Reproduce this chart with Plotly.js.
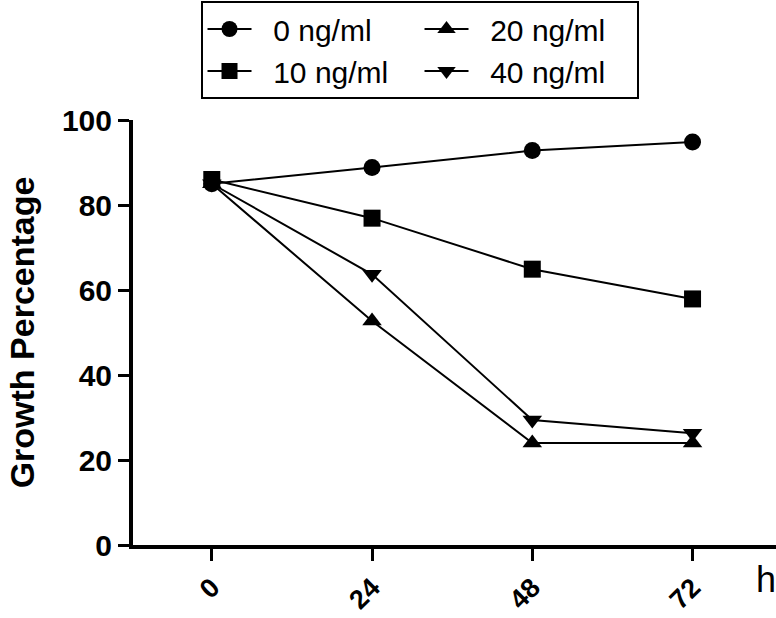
<!DOCTYPE html>
<html>
<head>
<meta charset="utf-8">
<script src="https://cdn.plot.ly/plotly-3.0.1.min.js"></script>
<style>html,body{margin:0;padding:0;background:#fff}#chart{width:776px;height:618px}</style>
</head>
<body>
<div id="chart"></div>
<script>
const hours = [0, 24, 48, 72];
const conc0 = [85, 88.8, 92.8, 94.8];
const conc10 = [86, 76.9, 64.9, 57.9];
const conc20 = [85, 52.7, 24, 24];
const conc40 = [85, 63.7, 29.4, 26.3];
const seriesNames = ['0 ng/ml', '20 ng/ml', '10 ng/ml', '40 ng/ml'];
const yTicks = [0, 20, 40, 60, 80, 100];
const xTickLabels = ['0', '24', '48', '72'];

function mk(name, y, symbol) {
  return {
    x: hours, y: y, name: '\u00a0\u00a0' + name, type: 'scatter', mode: 'lines+markers',
    line: {color: '#000', width: 2},
    marker: {symbol: symbol, size: 17, color: '#000'},
    cliponaxis: false
  };
}
const traces = [
  mk(seriesNames[0], conc0, 'circle'),
  mk(seriesNames[1], conc20, 'triangle-up'),
  mk(seriesNames[2], conc10, 'square'),
  mk(seriesNames[3], conc40, 'triangle-down')
];

const layout = {
  width: 776, height: 618,
  margin: {l: 133, r: 0, t: 119.5, b: 72.5},
  paper_bgcolor: '#fff', plot_bgcolor: '#fff',
  font: {family: 'Liberation Sans, Arial, sans-serif', color: '#000'},
  showlegend: true,
  legend: {
    orientation: 'h', x: 0.105, xanchor: 'left', y: 1.28, yanchor: 'top',
    bordercolor: '#000', borderwidth: 2, bgcolor: '#fff',
    font: {size: 30, color: '#000'},
    itemwidth: 44,
    entrywidth: 158, entrywidthmode: 'pixels', traceorder: 'normal'
  },
  xaxis: {
    range: [-11.8, 84.5], tickvals: hours, ticktext: xTickLabels,
    showline: true, linecolor: '#000', linewidth: 4, mirror: false,
    ticks: 'outside', ticklen: 12, tickwidth: 3, tickcolor: '#000',
    tickangle: -45, tickfont: {size: 27, family: 'Liberation Sans, Arial, sans-serif', weight: 'bold'},
    showgrid: false, zeroline: false, fixedrange: true
  },
  yaxis: {
    range: [0, 100], tickvals: yTicks,
    showline: true, linecolor: '#000', linewidth: 4,
    ticks: 'outside', ticklen: 11, tickwidth: 3, tickcolor: '#000',
    tickfont: {size: 30, family: 'Liberation Sans, Arial, sans-serif', weight: 'bold'},
    title: {text: '<b>Growth Percentage</b>', font: {size: 34}, standoff: 18},
    showgrid: false, zeroline: false, fixedrange: true
  },
  annotations: [{
    text: 'h', xref: 'paper', yref: 'paper', x: 0.985, y: -0.08,
    xanchor: 'center', yanchor: 'middle', showarrow: false,
    font: {size: 36, color: '#000'}
  }]
};
Plotly.newPlot('chart', traces, layout, {displayModeBar: false, staticPlot: true});
</script>
</body>
</html>
